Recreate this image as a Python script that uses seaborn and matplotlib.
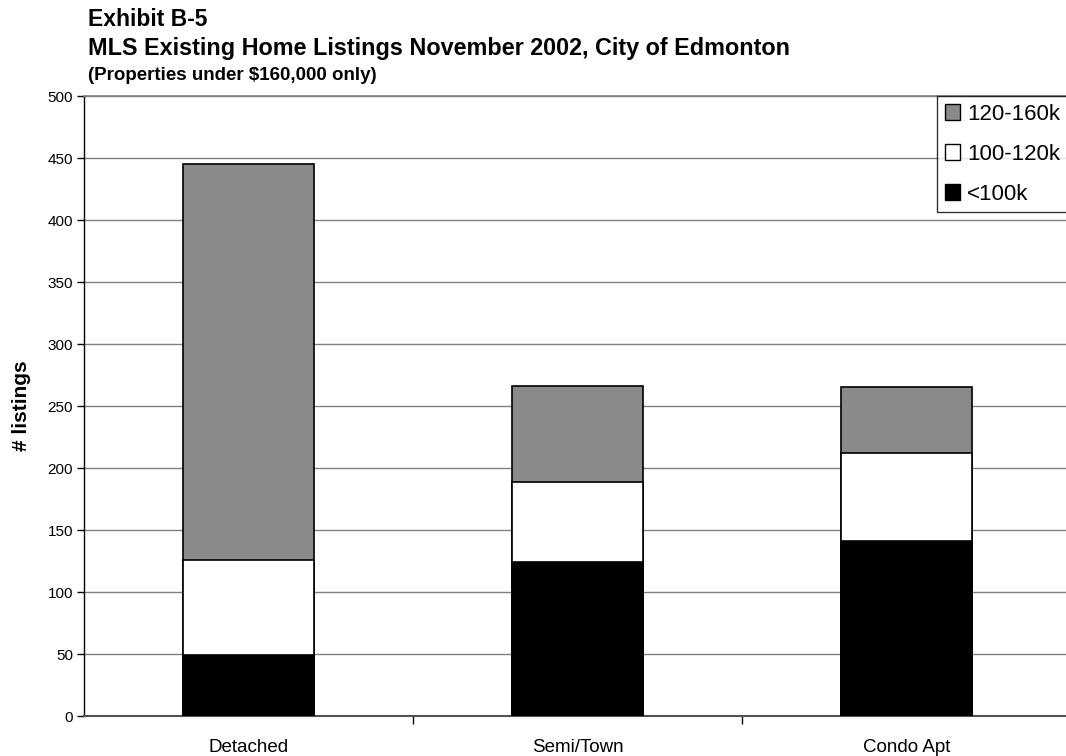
import matplotlib
matplotlib.use("Agg")
import matplotlib.pyplot as plt
import seaborn as sns
import pandas as pd
from matplotlib.patches import Patch

categories = ["Detached", "Semi/Town", "Condo Apt"]
under_100k = [49, 124, 141]
k100_120 = [77, 65, 71]
k120_160 = [319, 77, 53]
series_names = ["<100k", "100-120k", "120-160k"]
yticks = [0, 50, 100, 150, 200, 250, 300, 350, 400, 450, 500]

sns.set_theme(style="white")
plt.rcParams["font.family"] = ["Liberation Sans", "DejaVu Sans"]
plt.rcParams["text.color"] = "black"
plt.rcParams["axes.labelcolor"] = "black"
plt.rcParams["xtick.color"] = "black"
plt.rcParams["ytick.color"] = "black"

W, H = 1066, 756
fig = plt.figure(figsize=(W / 100, H / 100), dpi=100)
ax = fig.add_axes([84 / W, 1 - 716 / H, (1071 - 84) / W, 620 / H])

cum1 = [a for a in under_100k]
cum2 = [a + b for a, b in zip(under_100k, k100_120)]
cum3 = [a + b + c for a, b, c in zip(under_100k, k100_120, k120_160)]

gray = "#8a8a8a"
layers = [(cum3, gray), (cum2, "white"), (cum1, "black")]
for vals, col in layers:
    df = pd.DataFrame({"cat": categories, "val": vals})
    sns.barplot(data=df, x="cat", y="val", color=col, width=0.4,
                edgecolor="black", linewidth=1.2, saturation=1, ax=ax, zorder=3)

ax.set_ylim(0, 500)
ax.set_xlim(-0.5, 2.5)
ax.set_yticks(yticks)
ax.set_yticklabels([str(v) for v in yticks], fontsize=11)
ax.yaxis.grid(True, color="#808080", linewidth=1.0, zorder=0)
ax.set_axisbelow(True)
for s in ["top", "right"]:
    ax.spines[s].set_visible(True)
ax.spines["top"].set_color("#808080")
ax.spines["left"].set_color("black")
ax.spines["bottom"].set_color("#505050")
ax.spines["left"].set_linewidth(1.0)
ax.spines["bottom"].set_linewidth(1.5)

ax.set_xticks([0.5, 1.5], minor=False)
ax.set_xticklabels(["", ""])
ax.tick_params(axis="x", direction="out", length=6, width=1, color="black", bottom=True)
ax.tick_params(axis="y", direction="out", length=5, width=1, color="black", left=True, pad=3)
for i, c in enumerate(categories):
    ax.annotate(c, xy=(i, 0), xycoords=("data", "axes fraction"), xytext=(0, -36),
                textcoords="offset pixels", ha="center", va="baseline", fontsize=13.5)
ax.set_xlabel("")
ax.set_ylabel("# listings", fontsize=15, fontweight="bold", labelpad=12)

fig.text(88 / W, 1 - 26 / H, "Exhibit B-5", fontsize=16.5, fontweight="bold", va="baseline", ha="left")
fig.text(88 / W, 1 - 55 / H, "MLS Existing Home Listings November 2002, City of Edmonton",
         fontsize=16.8, fontweight="bold", va="baseline", ha="left")
fig.text(88 / W, 1 - 80 / H, "(Properties under $160,000 only)", fontsize=13.5,
         fontweight="bold", va="baseline", ha="left")

handles = [Patch(facecolor=gray, edgecolor="black"),
           Patch(facecolor="white", edgecolor="black"),
           Patch(facecolor="black", edgecolor="black")]
labels = ["120-160k", "100-120k", "<100k"]
leg = fig.legend(handles, labels, loc="upper left", bbox_to_anchor=(937 / W, 1 - 96 / H),
                 fontsize=16, frameon=True, fancybox=False, handlelength=0.7, handleheight=0.7,
                 handletextpad=0.3, labelspacing=0.85, borderpad=0.35, borderaxespad=0)
leg.get_frame().set_edgecolor("black")
leg.get_frame().set_linewidth(1.0)

fig.savefig("out.png", dpi=100)
